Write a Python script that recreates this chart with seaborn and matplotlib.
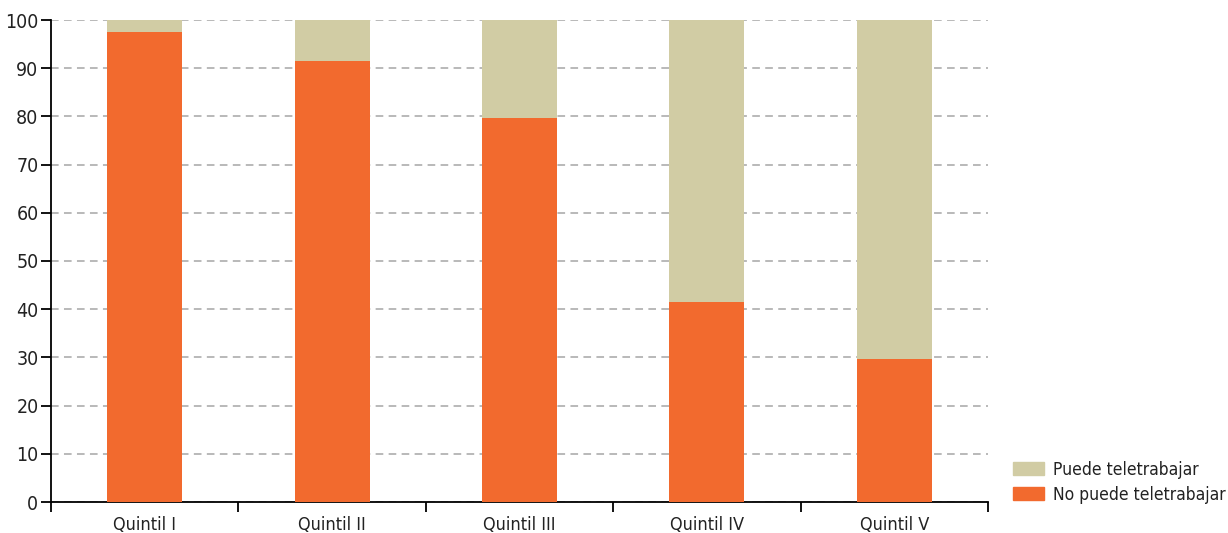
import matplotlib
matplotlib.use("Agg")
import matplotlib.pyplot as plt
import matplotlib.patches as mpatches
from matplotlib.ticker import FixedLocator
import seaborn as sns
import pandas as pd

# Share of workers by income quintile (%)
quintiles = ["Quintil I", "Quintil II", "Quintil III", "Quintil IV", "Quintil V"]
no_puede = [97.5, 91.5, 79.7, 41.5, 29.7]
puede = [2.5, 8.5, 20.3, 58.5, 70.3]

legend_labels = ["Puede teletrabajar", "No puede teletrabajar"]
color_puede = "#D1CCA4"
color_no = "#F26A2E"

sns.set_theme(style="white")
plt.rcParams["font.family"] = ["DejaVu Sans"]
plt.rcParams["font.stretch"] = "condensed"

df = pd.DataFrame({
    "quintil": quintiles,
    "no_puede": no_puede,
    "total": [a + b for a, b in zip(no_puede, puede)],
})

fig = plt.figure(figsize=(12.28, 5.33), dpi=100)
ax = fig.add_axes([51 / 1228, 31 / 533, (988 - 51) / 1228, (502 - 20) / 533])

sns.barplot(data=df, x="quintil", y="total", color=color_puede, width=0.4,
            saturation=1, ax=ax, zorder=3, linewidth=0)
sns.barplot(data=df, x="quintil", y="no_puede", color=color_no, width=0.4,
            saturation=1, ax=ax, zorder=4, linewidth=0)

ax.set_xlim(-0.5, len(quintiles) - 0.5)
ax.set_ylim(0, 100)
ax.set_yticks(range(0, 101, 10))
ax.set_xlabel("")
ax.set_ylabel("")

ax.yaxis.grid(True, linestyle=(0, (5, 3.5)), color="#a6a6a6", linewidth=1.1, zorder=0)
ax.xaxis.grid(False)

for side in ["top", "right"]:
    ax.spines[side].set_visible(False)
for side in ["left", "bottom"]:
    ax.spines[side].set_color("black")
    ax.spines[side].set_linewidth(1.3)

ax.tick_params(axis="y", which="major", left=True, length=7, width=1.3, color="black",
               labelsize=14, pad=2, labelcolor="#222222")
ax.tick_params(axis="x", which="major", bottom=False, labelsize=13, pad=4, labelcolor="#222222")
ax.xaxis.set_minor_locator(FixedLocator([i + 0.5 for i in range(-1, len(quintiles))]))
ax.tick_params(axis="x", which="minor", bottom=True, length=7, width=1.3, color="black")

handles = [mpatches.Patch(color=color_puede, label=legend_labels[0]),
           mpatches.Patch(color=color_no, label=legend_labels[1])]
fig.legend(handles=handles, loc="lower left", bbox_to_anchor=(1010 / 1228, 26 / 533),
           frameon=False, fontsize=12.5, handlelength=1.75, handleheight=0.85,
           handletextpad=0.5, labelspacing=0.4, borderaxespad=0, borderpad=0.2,
           labelcolor="#222222")

fig.savefig("out.png", dpi=100)
